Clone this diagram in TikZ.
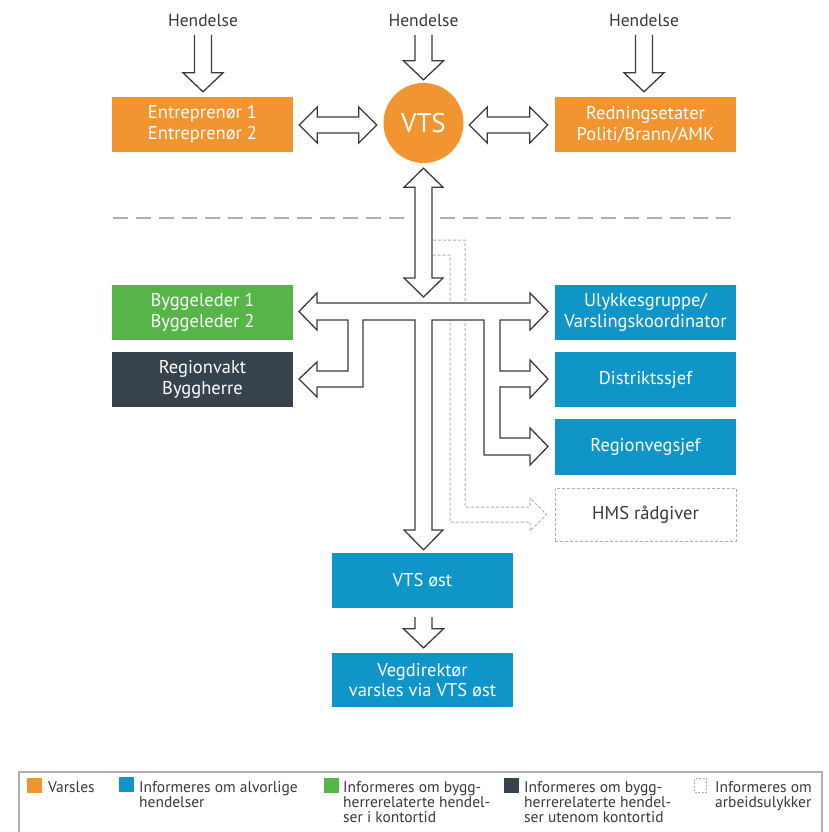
\documentclass[tikz,border=0pt]{standalone}
\usepackage{fontspec}
\setmainfont{PT Sans}
\usetikzlibrary{calc}
\definecolor{vorange}{HTML}{F29430}
\definecolor{vblue}{HTML}{1095C8}
\definecolor{vgreen}{HTML}{55B647}
\definecolor{vdark}{HTML}{36424C}
\definecolor{vline}{HTML}{3C3C3C}
\definecolor{vgrey}{HTML}{B0B0B0}
\definecolor{vtext}{HTML}{3A3A3A}
\tikzset{
  box/.style={rectangle, minimum width=181pt, minimum height=55pt, inner sep=0pt, align=center, text=white, font=\fontsize{18.5}{20.5}\selectfont},
  orangebox/.style={box, fill=vorange},
  bluebox/.style={box, fill=vblue},
  greenbox/.style={box, fill=vgreen},
  darkbox/.style={box, fill=vdark},
  dashbox/.style={box, draw=vgrey, line width=1pt, dash pattern=on 3pt off 2pt, text=vtext},
  evlabel/.style={inner sep=0pt, text=vtext, font=\fontsize{17.5}{20}\selectfont},
  hollow/.style={draw=vline, fill=white, line width=1.3pt, line join=miter},
  hmsdash/.style={draw=vgrey, line width=1pt, dash pattern=on 3pt off 2pt},
  sepline/.style={draw=vgrey, line width=2.5pt, dash pattern=on 15pt off 8pt},
  legsq/.style={rectangle, inner sep=0pt, minimum size=15pt},
  legtext/.style={anchor=north west, inner sep=0pt, align=left, text=vtext, font=\fontsize{15.5}{15}\selectfont},
}
\newcommand\openarrow[2]{\draw[hollow] let \p1=#1, \p2=#2 in
  (\x2-8.5pt,\y1) -- (\x2-8.5pt,\y2+19pt) -- (\x2-20pt,\y2+19pt) -- (\x2,\y2)
  -- (\x2+20pt,\y2+19pt) -- (\x2+8.5pt,\y2+19pt) -- (\x2+8.5pt,\y1);}
\newcommand\hdoublearrow[2]{\draw[hollow] let \p1=#1, \p2=#2 in
  (\x1,\y1) -- (\x1+18pt,\y1+18pt) -- (\x1+18pt,\y1+8pt) -- (\x2-18pt,\y1+8pt)
  -- (\x2-18pt,\y1+18pt) -- (\x2,\y1) -- (\x2-18pt,\y1-18pt) -- (\x2-18pt,\y1-8pt)
  -- (\x1+18pt,\y1-8pt) -- (\x1+18pt,\y1-18pt) -- cycle;}
\newcommand\vdoublearrow[2]{\draw[hollow] let \p1=#1, \p2=#2 in
  (\x1,\y1) -- (\x1+19.5pt,\y1-19pt) -- (\x1+8.5pt,\y1-19pt) -- (\x1+8.5pt,\y2+19pt)
  -- (\x1+19.5pt,\y2+19pt) -- (\x1,\y2) -- (\x1-19.5pt,\y2+19pt) -- (\x1-8.5pt,\y2+19pt)
  -- (\x1-8.5pt,\y1-19pt) -- (\x1-19.5pt,\y1-19pt) -- cycle;}
\begin{document}
\begin{tikzpicture}[x=1pt, y=-1pt]
\useasboundingbox (0,0) rectangle (828,832);
\clip (0,0) rectangle (828,832);
\fill[white] (0,0) rectangle (828,832);

% labels
\node[evlabel] (h1) at (203,20) {Hendelse};
\node[evlabel] (h2) at (423.5,20) {Hendelse};
\node[evlabel] (h3) at (644,20) {Hendelse};

% top row
\node[orangebox] (entr) at (202.5,124.5) {Entreprenør 1\\Entreprenør 2};
\node[circle, fill=vorange, minimum size=80pt, inner sep=0pt, text=white, font=\fontsize{27}{30}\selectfont] (vts) at (423.5,123) {VTS};
\node[orangebox] (redn) at (645.5,124.5) {Redningsetater\\Politi/Brann/AMK};

% left column
\node[greenbox] (bygg) at (202.5,312.5) {Byggeleder 1\\Byggeleder 2};
\node[darkbox] (regvakt) at (202.5,379.5) {Regionvakt\\Byggherre};

% right column
\node[bluebox] (ulykke) at (645.5,312.5) {Ulykkesgruppe/\\Varslingskoordinator};
\node[bluebox] (distrikt) at (645.5,379.5) {Distriktssjef};
\node[bluebox, minimum height=56pt] (regveg) at (645.5,447) {Regionvegsjef};
\node[dashbox, minimum height=53pt] (hms) at (645.5,514.5) {HMS rådgiver};

% bottom
\node[bluebox] (vtsost) at (422.5,580.5) {VTS øst};
\node[bluebox, minimum height=54pt] (vegdir) at (422.5,680) {Vegdirektør\\varsles via VTS øst};

\coordinate (hub) at (423.5,311.5);

% separator
\draw[sepline] (113,218) -- (408,218);
\draw[sepline] (440,218) -- (736,218);

% incoming event arrows
\openarrow{($(h1.center)+(0,15)$)}{($(entr.north)+(0.5,-5)$)}
\openarrow{($(h2.center)+(0,15)$)}{($(vts.north)+(0,-3)$)}
\openarrow{($(h3.center)+(0,15)$)}{($(redn.north)+(-1.5,-5)$)}

% horizontal double arrows
\hdoublearrow{($(entr.east)+(6,0.5)$)}{($(vts.west)+(-6.5,2)$)}
\hdoublearrow{($(vts.east)+(5.5,2)$)}{($(redn.west)+(-7,0.5)$)}

% vertical double arrow VTS -> hub
\vdoublearrow{($(vts.south)+(0,5)$)}{($(hub)+(0,-14.5)$)}

% dashed HMS arrow
\draw[hmsdash] (433,240) -- (465,240) -- (465,507) -- (530,507) -- (530,498)
  -- ($(hms.west)+(-8,0)$) -- (530,531) -- (530,522) -- (450,522) -- (450,255) -- (433,255);

% main distribution tree
\draw[hollow] (299,311.5) -- (317,293) -- (317,303) -- (530,303) -- (530,293)
  -- (548,311.5) -- (530,330) -- (530,320) -- (500,320) -- (500,371) -- (530,371)
  -- (530,360) -- (548,379) -- (530,398) -- (530,387) -- (500,387) -- (500,438)
  -- (530,438) -- (530,428) -- (548,446.5) -- (530,465) -- (530,455) -- (484,455)
  -- (484,320) -- (432,320) -- (432,530) -- (443,530) -- ($(vtsost.north)+(1,-3)$)
  -- (404,530) -- (415,530) -- (415,320) -- (363,320) -- (363,387) -- (317,387)
  -- (317,397) -- (299,379) -- (317,362) -- (317,371) -- (348,371) -- (348,320)
  -- (317,320) -- (317,330) -- cycle;

% VTS øst -> Vegdirektør
\openarrow{($(vtsost.south)+(1,9)$)}{($(vegdir.north)+(1,-5)$)}

% legend
\draw[draw=vgrey, line width=1.2pt] (19,840) -- (19,772) -- (822,772) -- (822,840);
\node[legsq, fill=vorange] (lq1) at (34.5,785.5) {};
\node[legtext] (lt1) at (48,781) {Varsles};
\node[legsq, fill=vblue] (lq2) at (126.5,784.5) {};
\node[legtext] (lt2) at (139,781) {Informeres om alvorlige\\hendelser};
\node[legsq, fill=vgreen] (lq3) at (331,785.5) {};
\node[legtext] (lt3) at (343,781) {Informeres om bygg-\\herrerelaterte hendel-\\ser i kontortid};
\node[legsq, fill=vdark] (lq4) at (511.5,785.5) {};
\node[legtext] (lt4) at (524,781) {Informeres om bygg-\\herrerelaterte hendel-\\ser utenom kontortid};
\node[legsq, minimum width=12pt, minimum height=14pt, draw=vgrey, line width=0.8pt, dash pattern=on 2pt off 1.5pt] (lq5) at (700.5,785) {};
\node[legtext] (lt5) at (715,781) {Informeres om\\arbeidsulykker};
\end{tikzpicture}
\end{document}
